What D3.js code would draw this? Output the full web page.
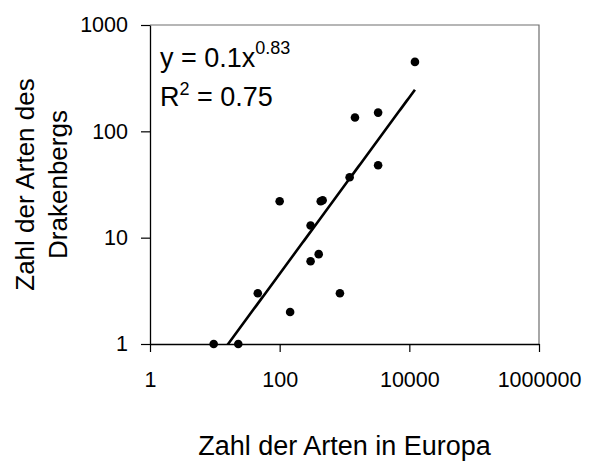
<!DOCTYPE html>
<html>
<head>
<meta charset="utf-8">
<script src="https://cdn.jsdelivr.net/npm/d3@7"></script>
<style>
  html, body { margin: 0; padding: 0; background: #fff; }
  svg text { font-family: "Liberation Sans", Arial, sans-serif; fill: #000; }
</style>
</head>
<body>
<svg id="chart" width="595" height="462"></svg>
<script>
// Species counts: Europe (x) vs. Drakensberg (y), one entry per group
const europeCounts = [12200, 3300, 1450, 3300, 1200, 100, 430, 460, 300, 400, 300, 46, 850, 145, 9.6, 23];
const drakensbergCounts = [450, 150, 135, 48, 37, 22, 22, 22.5, 13, 7, 6, 3, 3, 2, 1, 1];

// Power-law fit y = a * x^b
const fitA = 0.1;
const fitB = 0.83;
const fitR2 = 0.75;

const xTicks = [1, 100, 10000, 1000000];
const yTicks = [1, 10, 100, 1000];

const svg = d3.select("#chart");
const plot = { left: 150, right: 539, top: 25, bottom: 344 };

const x = d3.scaleLog().domain([1, 1000000]).range([plot.left, plot.right]);
const y = d3.scaleLog().domain([1, 1000]).range([plot.bottom, plot.top]);

// Plot area frame (top and right edges)
svg.append("path")
  .attr("d", `M${plot.left},${plot.top}H${plot.right}V${plot.bottom}`)
  .attr("fill", "none")
  .attr("stroke", "#6e6e6e")
  .attr("stroke-width", 1.2);

// Axes
const xAxis = svg.append("g")
  .attr("transform", `translate(0,${plot.bottom})`)
  .call(d3.axisBottom(x).tickValues(xTicks).tickFormat(d3.format("d")).tickSize(8).tickSizeOuter(0).tickPadding(20));
const yAxis = svg.append("g")
  .attr("transform", `translate(${plot.left},0)`)
  .call(d3.axisLeft(y).tickValues(yTicks).tickFormat(d3.format("d")).tickSize(9).tickSizeOuter(0).tickPadding(13));

[xAxis, yAxis].forEach(g => {
  g.select(".domain").attr("stroke", "#000").attr("stroke-width", 1.3);
  g.selectAll(".tick line").attr("stroke", "#000").attr("stroke-width", 1.2);
  g.selectAll(".tick text").attr("font-size", 21.5).attr("font-family", "Liberation Sans, Arial, sans-serif");
});

// Trend line, clipped to the plot area
svg.append("clipPath").attr("id", "plot-clip")
  .append("rect")
  .attr("x", plot.left).attr("y", plot.top)
  .attr("width", plot.right - plot.left).attr("height", plot.bottom - plot.top);

const xMin = d3.min(europeCounts), xMax = d3.max(europeCounts);
const fitPoints = d3.range(0, 101).map(i => {
  const lx = Math.log10(xMin) + (Math.log10(xMax) - Math.log10(xMin)) * i / 100;
  const xv = Math.pow(10, lx);
  return [xv, fitA * Math.pow(xv, fitB)];
});
svg.append("path")
  .datum(fitPoints)
  .attr("clip-path", "url(#plot-clip)")
  .attr("fill", "none")
  .attr("stroke", "#000")
  .attr("stroke-width", 2.6)
  .attr("d", d3.line().x(d => x(d[0])).y(d => y(d[1])));

// Data points
svg.append("g")
  .selectAll("circle")
  .data(europeCounts.map((v, i) => [v, drakensbergCounts[i]]))
  .join("circle")
  .attr("cx", d => x(d[0]))
  .attr("cy", d => y(d[1]))
  .attr("r", 4.3)
  .attr("fill", "#000");

// Fit equation and R²
const eq = svg.append("text").attr("x", 160).attr("y", 67).attr("font-size", 27);
eq.append("tspan").text(`y = ${fitA}x`);
eq.append("tspan").attr("font-size", 18).attr("dy", -13).text(fitB.toFixed(2));

const r2 = svg.append("text").attr("x", 160).attr("y", 106).attr("font-size", 27);
r2.append("tspan").text("R");
r2.append("tspan").attr("font-size", 18).attr("dy", -11).text("2");
r2.append("tspan").attr("dy", 11).text(` = ${fitR2.toFixed(2)}`);

// Axis titles
svg.append("text")
  .attr("x", (plot.left + plot.right) / 2)
  .attr("y", 455)
  .attr("text-anchor", "middle")
  .attr("font-size", 27)
  .text("Zahl der Arten in Europa");

const yTitle = svg.append("text")
  .attr("transform", `translate(0,${(plot.top + plot.bottom) / 2}) rotate(-90)`)
  .attr("text-anchor", "middle")
  .attr("font-size", 26);
yTitle.append("tspan").attr("x", 0).attr("y", 34).text("Zahl der Arten des");
yTitle.append("tspan").attr("x", 0).attr("y", 67).text("Drakenbergs");
</script>
</body>
</html>
